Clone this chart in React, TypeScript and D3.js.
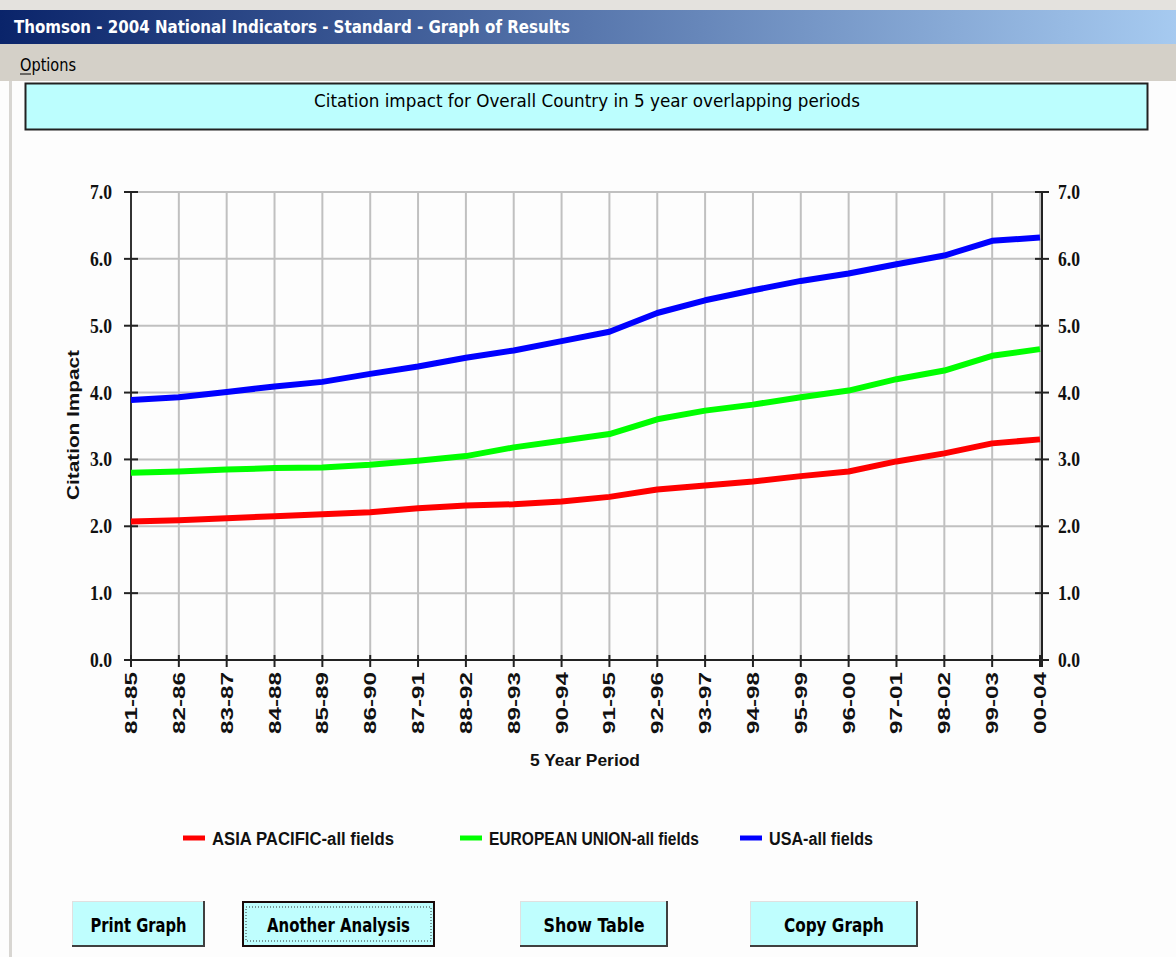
import React from 'react';
import * as d3 from 'd3';

const periods = ["81-85","82-86","83-87","84-88","85-89","86-90","87-91","88-92","89-93","90-94",
  "91-95","92-96","93-97","94-98","95-99","96-00","97-01","98-02","99-03","00-04"];
const asiaPacific = [2.07,2.09,2.12,2.15,2.18,2.21,2.27,2.31,2.33,2.37,2.44,2.55,2.61,2.67,2.75,2.82,2.97,3.09,3.24,3.30];
const europeanUnion = [2.80,2.82,2.85,2.87,2.88,2.92,2.98,3.05,3.18,3.28,3.38,3.60,3.73,3.82,3.93,4.03,4.20,4.33,4.55,4.65];
const usa = [3.89,3.93,4.01,4.09,4.16,4.28,4.39,4.52,4.63,4.77,4.91,5.19,5.38,5.53,5.67,5.78,5.92,6.05,6.27,6.32];
const seriesNames = ["ASIA PACIFIC-all fields","EUROPEAN UNION-all fields","USA-all fields"];
const seriesColors = ["#ff0000","#00ff00","#0000ff"];
const yTicks = [0,1,2,3,4,5,6,7];
const buttons = ["Print Graph","Another Analysis","Show Table","Copy Graph"];

const W = 1176, H = 957;
const condensed = "DejaVu Sans Condensed, DejaVu Sans";

export default function App() {
  const x = d3.scalePoint<string>().domain(periods).range([131, 1040]);
  const y = d3.scaleLinear().domain([0, 7]).range([660, 192]);
  const line = d3.line<number>().x((d, i) => x(periods[i]) as number).y(d => y(d));
  const allSeries = [asiaPacific, europeanUnion, usa];

  // legend / button boxes
  const legendX = [183, 460, 740];
  const legendTextW = [182, 210, 104];
  const btnBoxes = [[72, 133], [242, 193], [520, 148], [750, 168]];
  const btnTextW = [96, 143, 101, 100];

  return (
    <svg width={W} height={H} style={{ position: 'absolute', left: 0, top: 0, display: 'block' }}>
      <defs>
        <linearGradient id="tb" x1="0" x2="1" y1="0" y2="0">
          <stop offset="0" stopColor="#0a246a" />
          <stop offset="1" stopColor="#a6caf0" />
        </linearGradient>
      </defs>
      <rect x={0} y={0} width={W} height={H} fill="#fdfdfd" />
      {/* window chrome */}
      <rect x={0} y={0} width={W} height={10} fill="#e4e2de" />
      <rect x={0} y={10} width={W} height={34} fill="url(#tb)" />
      <text x={14} y={33} fill="#fff" fontFamily={condensed} fontWeight="bold" fontSize={18}
        textLength={556} lengthAdjust="spacingAndGlyphs">Thomson - 2004 National Indicators - Standard - Graph of Results</text>
      <rect x={0} y={44} width={W} height={37} fill="#d4d0c8" />
      <text x={20} y={71} fill="#000" fontFamily={condensed} fontSize={17}
        textLength={56} lengthAdjust="spacingAndGlyphs">Options</text>
      <line x1={20} x2={31} y1={74} y2={74} stroke="#000" strokeWidth={1} />
      <rect x={9} y={81} width={3} height={H - 81} fill="#d8d6d2" />
      {/* header box */}
      <rect x={25.5} y={83.5} width={1122} height={46} fill="#bcfefe" stroke="#222" strokeWidth={2} />
      <text x={587} y={107} textAnchor="middle" fill="#000" fontFamily={condensed} fontSize={18} fontWeight={500}
        textLength={546} lengthAdjust="spacingAndGlyphs">Citation impact for Overall Country in 5 year overlapping periods</text>

      {/* grid */}
      {periods.map(p => (
        <line key={'gx' + p} x1={x(p)} x2={x(p)} y1={192} y2={660} stroke="#c0c0c0" strokeWidth={2} />
      ))}
      {yTicks.map(t => (
        <line key={'gy' + t} x1={131} x2={1042} y1={y(t)} y2={y(t)} stroke="#c0c0c0" strokeWidth={2} />
      ))}
      {/* axes */}
      <line x1={131} x2={131} y1={192} y2={667} stroke="#333" strokeWidth={2} />
      <line x1={1042} x2={1042} y1={192} y2={667} stroke="#222" strokeWidth={2} />
      <line x1={124} x2={1049} y1={660} y2={660} stroke="#222" strokeWidth={2} />
      {yTicks.map(t => (
        <g key={'yt' + t}>
          <line x1={124} x2={138} y1={y(t)} y2={y(t)} stroke="#222" strokeWidth={2} />
          <line x1={1035} x2={1049} y1={y(t)} y2={y(t)} stroke="#222" strokeWidth={2} />
          <text x={112} y={y(t) + 7} textAnchor="end" fontFamily="Liberation Serif" fontWeight="bold" fontSize={20} fill="#111"
            textLength={22} lengthAdjust="spacingAndGlyphs">{t.toFixed(1)}</text>
          <text x={1058} y={y(t) + 7} textAnchor="start" fontFamily="Liberation Serif" fontWeight="bold" fontSize={20} fill="#111"
            textLength={22} lengthAdjust="spacingAndGlyphs">{t.toFixed(1)}</text>
        </g>
      ))}
      {periods.map(p => (
        <g key={'xt' + p}>
          <line x1={x(p)} x2={x(p)} y1={655} y2={667} stroke="#222" strokeWidth={2} />
          <text transform={`translate(${(x(p) as number) + 6},672) rotate(-90)`} textAnchor="end"
            fontFamily="Liberation Sans" fontWeight="bold" fontSize={16} fill="#111"
            textLength={62} lengthAdjust="spacingAndGlyphs">{p}</text>
        </g>
      ))}
      <text transform="translate(79,425) rotate(-90)" textAnchor="middle" fontFamily="Liberation Sans" fontWeight="bold"
        fontSize={16} fill="#111" textLength={150} lengthAdjust="spacingAndGlyphs">Citation Impact</text>
      <text x={585} y={766} textAnchor="middle" fontFamily="Liberation Sans" fontWeight="bold" fontSize={17} fill="#111"
        textLength={110} lengthAdjust="spacingAndGlyphs">5 Year Period</text>

      {/* series */}
      {allSeries.map((s, i) => (
        <path key={'s' + i} d={line(s) || ''} fill="none" stroke={seriesColors[i]} strokeWidth={6} strokeLinejoin="round" />
      ))}

      {/* legend */}
      {seriesNames.map((n, i) => (
        <g key={'lg' + i}>
          <line x1={legendX[i]} x2={legendX[i] + 22} y1={838} y2={838} stroke={seriesColors[i]} strokeWidth={5} />
          <text x={legendX[i] + 29} y={845} fontFamily="Liberation Sans" fontWeight="bold" fontSize={18} fill="#111"
            textLength={legendTextW[i]} lengthAdjust="spacingAndGlyphs">{n}</text>
        </g>
      ))}

      {/* buttons */}
      {buttons.map((b, i) => {
        const [bx, bw] = btnBoxes[i];
        const by = 901, bh = 46;
        const focused = i === 1;
        return (
          <g key={'b' + i}>
            <rect x={bx} y={by} width={bw} height={bh} fill="#bffefe" />
            <line x1={bx} x2={bx + bw} y1={by + 0.5} y2={by + 0.5} stroke="#e0e0e0" />
            <line x1={bx + 0.5} x2={bx + 0.5} y1={by} y2={by + bh} stroke="#e0e0e0" />
            <line x1={bx} x2={bx + bw} y1={by + bh - 1} y2={by + bh - 1} stroke="#404040" strokeWidth={2} />
            <line x1={bx + bw - 1} x2={bx + bw - 1} y1={by} y2={by + bh} stroke="#404040" strokeWidth={2} />
            {focused && <rect x={bx + 1} y={by + 1} width={bw - 2} height={bh - 2} fill="none" stroke="#1a0a0a" strokeWidth={2} />}
            {focused && <rect x={bx + 4} y={by + 6} width={bw - 8} height={bh - 12} fill="none" stroke="#333" strokeWidth={1} strokeDasharray="1,2" />}
            <text x={bx + bw / 2} y={by + 31} textAnchor="middle" fontFamily={condensed} fontSize={20} fontWeight="bold"
              fill="#000" textLength={btnTextW[i]} lengthAdjust="spacingAndGlyphs">{b}</text>
          </g>
        );
      })}
    </svg>
  );
}
